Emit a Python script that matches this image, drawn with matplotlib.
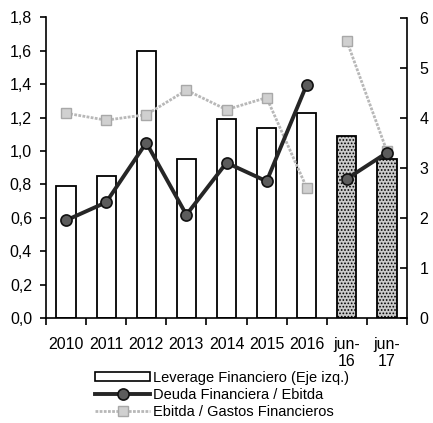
import numpy as np
import matplotlib.pyplot as plt
from matplotlib.ticker import FixedLocator

plt.rcParams['font.family'] = ['Liberation Sans', 'DejaVu Sans']
plt.rcParams['hatch.color'] = '#8a8a8a'
plt.rcParams['hatch.linewidth'] = 0.8

periodos = ['2010', '2011', '2012', '2013', '2014', '2015', '2016', 'jun-\n16', 'jun-\n17']
leverage = [0.79, 0.85, 1.60, 0.95, 1.19, 1.14, 1.23, 1.09, 0.95]
deuda_ebitda = [1.95, 2.31, 3.50, 2.06, 3.10, 2.73, 4.66, 2.78, 3.30]
ebitda_gastos = [4.09, 3.95, 4.06, 4.55, 4.16, 4.40, 2.60, 5.53, 3.33]
n_anual = 7  # the first seven are full years, the rest are june cuts

x = np.arange(len(periodos))

fig = plt.figure(figsize=(4.33, 4.23), dpi=100)
ax = fig.add_axes([46/433, 1-318/423, (407-46)/433, (318-17.5)/423])
ax2 = ax.twinx()

# bars: plain for years, stippled grey for june cuts
colores = ['white'] * n_anual + ['#cbcbcb'] * (len(x) - n_anual)
hatches = [''] * n_anual + ['.....'] * (len(x) - n_anual)
barras = ax.bar(x, leverage, width=0.48, color=colores, edgecolor='black', linewidth=1.3)
for b, h in zip(barras, hatches):
    b.set_hatch(h)

# lines on the right axis, broken between the yearly and june points
for sl in (slice(0, n_anual), slice(n_anual, None)):
    ax2.plot(x[sl], ebitda_gastos[sl], color='#b8b8b8', lw=2, ls=(0, (1, 0.5)),
             marker='s', ms=7.5, mfc='#d0d0d0', mec='#a8a8a8', mew=1)
    ax2.plot(x[sl], deuda_ebitda[sl], color='#262626', lw=2.8,
             marker='o', ms=8, mfc='#5c5c5c', mec='#111111', mew=1.2)

ax.set_xlim(-0.5, len(x) - 0.5)
ax.set_ylim(0, 1.8)
ax2.set_ylim(0, 6)

ax.set_yticks(np.arange(0, 1.81, 0.2))
ax.set_yticklabels([f'{v:.1f}'.replace('.', ',') for v in np.arange(0, 1.81, 0.2)])
ax2.set_yticks(range(0, 7))

ax.set_xticks(x)
ax.set_xticklabels(periodos, linespacing=1.15)
ax.xaxis.set_minor_locator(FixedLocator(np.arange(-0.5, len(x), 1)))
ax.tick_params(axis='x', which='major', length=0, labelsize=11.5, pad=14)
ax.tick_params(axis='x', which='minor', length=5, width=1.2, direction='out')
ax.tick_params(axis='y', length=4, width=1.2, direction='out', labelsize=11.5, pad=6)
ax2.tick_params(axis='y', length=5, width=1.2, direction='in', labelsize=11.5, pad=9)

for a in (ax, ax2):
    a.spines['top'].set_visible(False)
    for s in ('left', 'right', 'bottom'):
        a.spines[s].set_linewidth(1.2)
ax.spines['right'].set_visible(False)
ax2.spines['left'].set_visible(False)
ax2.spines['bottom'].set_visible(False)

h_bar = plt.Rectangle((0, 0), 1, 1, facecolor='white', edgecolor='black', lw=1.2)
h_deuda = plt.Line2D([], [], color='#262626', lw=2.8, marker='o', ms=8,
                     mfc='#5c5c5c', mec='#111111', mew=1.2)
h_ebitda = plt.Line2D([], [], color='#b8b8b8', lw=2, ls=(0, (1, 0.5)), marker='s', ms=7.5,
                      mfc='#d0d0d0', mec='#a8a8a8', mew=1)
fig.legend([h_bar, h_deuda, h_ebitda],
           ['Leverage Financiero (Eje izq.)', 'Deuda Financiera / Ebitda',
            'Ebitda / Gastos Financieros'],
           loc='upper left', bbox_to_anchor=(95/433, 1-371/423), frameon=False,
           fontsize=10.5, handlelength=3.8, handleheight=0.6, labelspacing=0.2,
           handletextpad=0.2, borderpad=0, borderaxespad=0)

fig.savefig('out.png', dpi=100)
